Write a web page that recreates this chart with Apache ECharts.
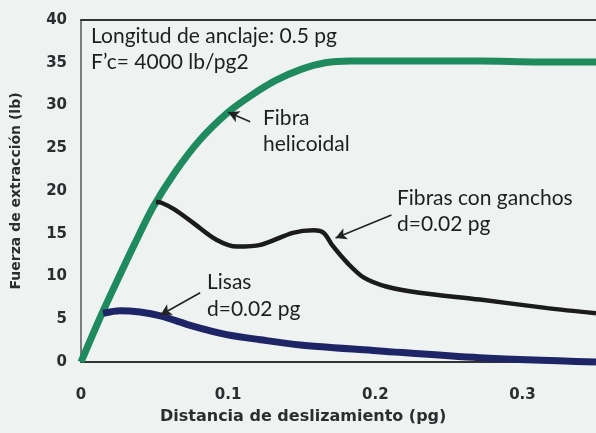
<!DOCTYPE html>
<html>
<head>
<meta charset="utf-8">
<script src="https://cdn.jsdelivr.net/npm/echarts@6/dist/echarts.min.js"></script>
<style>
  html, body { margin: 0; padding: 0; background: #eef3f2; }
  #chart { width: 596px; height: 433px; }
</style>
</head>
<body>
<div id="chart"></div>
<script>
// valores: [desplazamiento (pg), fuerza (lb)]
const helicoidal = [
  [0, 0], [0.0129, 5.15], [0.0245, 9.47], [0.0367, 13.9], [0.0489, 18.1],
  [0.0639, 22.2], [0.0809, 26.0], [0.0999, 29.2], [0.115, 31.1], [0.132, 32.9],
  [0.149, 34.2], [0.166, 35.0], [0.183, 35.2], [0.217, 35.2], [0.271, 35.2],
  [0.312, 35.1], [0.350, 35.1]
]
const ganchos = [
  [0.051, 18.7], [0.055, 18.6], [0.064, 17.8], [0.076, 16.3], [0.092, 14.3],
  [0.106, 13.5], [0.122, 13.7], [0.144, 15.1], [0.158, 15.4],
  [0.165, 15.1], [0.171, 13.6], [0.181, 11.6], [0.192, 9.9], [0.208, 8.8],
  [0.230, 8.1], [0.271, 7.3], [0.317, 6.3], [0.350, 5.7]
]
const lisas = [
  [0.015, 5.7], [0.0265, 6.0], [0.040, 5.85], [0.054, 5.4], [0.076, 4.2],
  [0.099, 3.2], [0.122, 2.6], [0.149, 2.0], [0.203, 1.3], [0.271, 0.5],
  [0.350, 0.0]
]
// flechas de las etiquetas: [inicio, punta]
const flechaHelicoidal = [[0.115, 28.1], [0.100, 29.2]]
const flechaGanchos = [[0.211, 17.2], [0.173, 14.5]]
const flechaLisas = [[0.081, 8.1], [0.054, 5.5]]

const xTicks = { min: 0, max: 0.35, interval: 0.1 }
const yTicks = { min: 0, max: 40, interval: 5 }

const tickFont = { fontFamily: 'DejaVu Sans', fontWeight: 'bold', fontSize: 15, color: '#2b2d2f' }
const noteFont = { fontFamily: 'Lato', fontSize: 21, fill: '#1e1e1e' }

const flecha = (par) => ({
  silent: true,
  symbol: ['none', 'arrow'],
  symbolSize: [9, 11],
  label: { show: false },
  lineStyle: { color: '#222', width: 1.6, type: 'solid' },
  data: [[{ coord: par[0] }, { coord: par[1] }]]
})

const chart = echarts.init(document.getElementById('chart'))
chart.setOption({
  backgroundColor: '#eef3f2',
  animation: false,
  grid: { left: 81, right: 0, top: 20, bottom: 71, outerBoundsMode: 'none' },
  xAxis: [
    {
      type: 'value', ...xTicks,
      axisLine: { show: true, lineStyle: { color: '#333', width: 2 } },
      axisTick: { show: false },
      splitLine: { show: false },
      axisLabel: {
        ...tickFont, margin: 26, showMaxLabel: false,
        formatter: v => v === 0 ? '0' : String(+v.toFixed(1))
      }
    },
    {
      type: 'value', position: 'top', ...xTicks,
      axisLine: { show: true, lineStyle: { color: '#333', width: 2 } },
      axisTick: { show: false }, axisLabel: { show: false }, splitLine: { show: false }
    }
  ],
  yAxis: {
    type: 'value', ...yTicks,
    name: 'Fuerza de extracción (lb)',
    nameLocation: 'middle', nameGap: 58,
    nameTextStyle: { fontFamily: 'DejaVu Sans', fontWeight: 'bold', fontSize: 14, color: '#2b2d2f' },
    axisLine: { show: true, lineStyle: { color: '#555', width: 1.5 } },
    axisTick: { show: false },
    splitLine: { show: false },
    axisLabel: { ...tickFont, margin: 14 }
  },
  series: [
    {
      name: 'Fibra helicoidal', type: 'line', data: helicoidal,
      smooth: 0.3, showSymbol: false, clip: false,
      lineStyle: { color: '#1f8a5e', width: 7 },
      markLine: flecha(flechaHelicoidal)
    },
    {
      name: 'Fibras con ganchos', type: 'line', data: ganchos,
      smooth: 0.3, showSymbol: false, clip: false,
      lineStyle: { color: '#1b1b1b', width: 4.5 },
      markLine: flecha(flechaGanchos)
    },
    {
      name: 'Lisas', type: 'line', data: lisas,
      smooth: 0.3, showSymbol: false, clip: false,
      lineStyle: { color: '#1d2567', width: 7 },
      markLine: flecha(flechaLisas)
    }
  ],
  graphic: [
    { type: 'text', left: 91, top: 26, style: { text: 'Longitud de anclaje: 0.5 pg', ...noteFont } },
    { type: 'text', left: 91, top: 52, style: { text: 'F\u2019c= 4000 lb/pg2', ...noteFont } },
    { type: 'text', left: 263, top: 108, style: { text: 'Fibra', ...noteFont } },
    { type: 'text', left: 263, top: 134, style: { text: 'helicoidal', ...noteFont } },
    { type: 'text', left: 397, top: 188, style: { text: 'Fibras con ganchos', ...noteFont } },
    { type: 'text', left: 397, top: 214, style: { text: 'd=0.02 pg', ...noteFont } },
    { type: 'text', left: 207, top: 272, style: { text: 'Lisas', ...noteFont } },
    { type: 'text', left: 207, top: 299, style: { text: 'd=0.02 pg', ...noteFont } },
    {
      type: 'text', left: 160, top: 409,
      style: { text: 'Distancia de deslizamiento (pg)', fontFamily: 'DejaVu Sans', fontWeight: 'bold', fontSize: 16, fill: '#2b2d2f' }
    }
  ]
})
</script>
</body>
</html>
